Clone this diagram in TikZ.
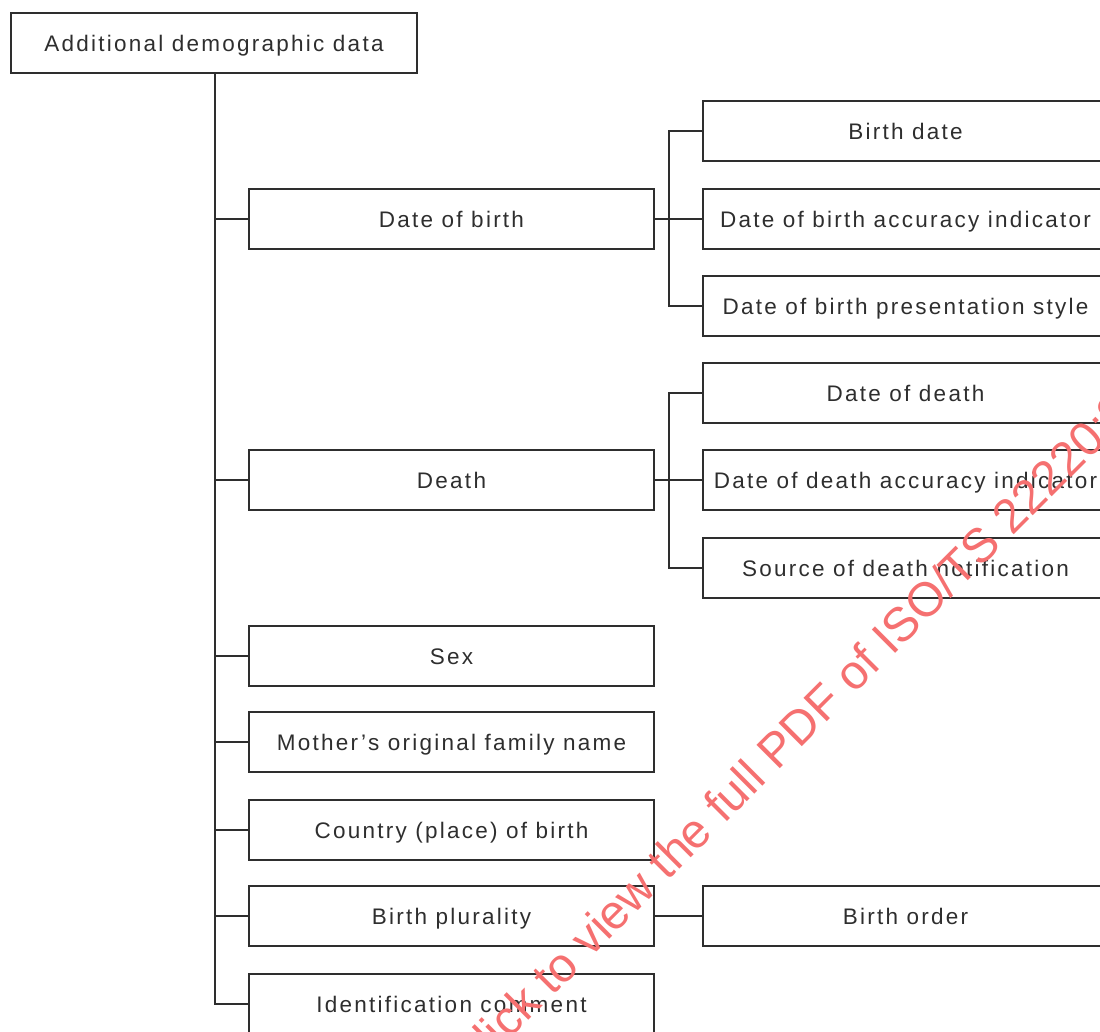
\documentclass[tikz,border=0pt]{standalone}
\usepackage{fontspec}
\setmainfont{Liberation Sans}[LetterSpace=10]
\newfontfamily\wmfont{Liberation Sans}
\usetikzlibrary{calc}
\definecolor{ink}{HTML}{2E2E2E}
\definecolor{wmred}{RGB}{245,112,112}
\begin{document}
\begin{tikzpicture}[x=1pt,y=-1pt,
  box/.style={draw=ink, line width=1.5pt, text=ink, minimum width=405pt, minimum height=60pt,
    inner sep=0pt, text height=16.1pt, text depth=0pt, font=\fontsize{22.5}{26}\selectfont},
  conn/.style={draw=ink, line width=1.5pt}]
\useasboundingbox (0,0) rectangle (1100,1032);
\clip (0,0) rectangle (1100,1032);
% top
\node[box, minimum width=406pt] (top) at (214,43) {Additional demographic data};
% level 2
\node[box] (dob) at (451.5,219) {Date of birth};
\node[box] (death) at (451.5,480) {Death};
\node[box] (sex) at (451.5,656) {Sex};
\node[box] (mom) at (451.5,742) {Mother's original family name};
\node[box] (ctry) at (451.5,830) {Country (place) of birth};
\node[box] (plur) at (451.5,916) {Birth plurality};
\node[box] (idc) at (451.5,1004) {Identification comment};
% level 3
\node[box] (bd) at (905.5,131) {Birth date};
\node[box] (bacc) at (905.5,219) {Date of birth accuracy indicator};
\node[box] (bpres) at (905.5,306) {Date of birth presentation style};
\node[box] (dd) at (905.5,393) {Date of death};
\node[box] (dacc) at (905.5,480) {Date of death accuracy indicator};
\node[box] (dsrc) at (905.5,568) {Source of death notification};
\node[box] (bord) at (905.5,916) {Birth order};
% trunk
\coordinate (tx) at (215,0);
\coordinate (bx) at (669,0);
\draw[conn] (top.south -| tx) -- (idc.west -| tx) -- (idc.west);
\foreach \n in {dob,death,sex,mom,ctry,plur}{
  \draw[conn] (\n.west -| tx) -- (\n.west);
}
% date of birth bus
\draw[conn] (bd.west) -- (bd.west -| bx) -- (bpres.west -| bx) -- (bpres.west);
\draw[conn] (dob.east) -- (bacc.west);
% death bus
\draw[conn] (dd.west) -- (dd.west -| bx) -- (dsrc.west -| bx) -- (dsrc.west);
\draw[conn] (death.east) -- (dacc.west);
% birth plurality
\draw[conn] (plur.east) -- (bord.west);
% watermark
\node[text=wmred, anchor=base west, rotate=45, inner sep=0pt, font=\wmfont\fontsize{48}{52}\selectfont] (wm) at (469.5,1079.5) {Click to view the full PDF of ISO/TS 22220:2011};
\end{tikzpicture}
\end{document}
